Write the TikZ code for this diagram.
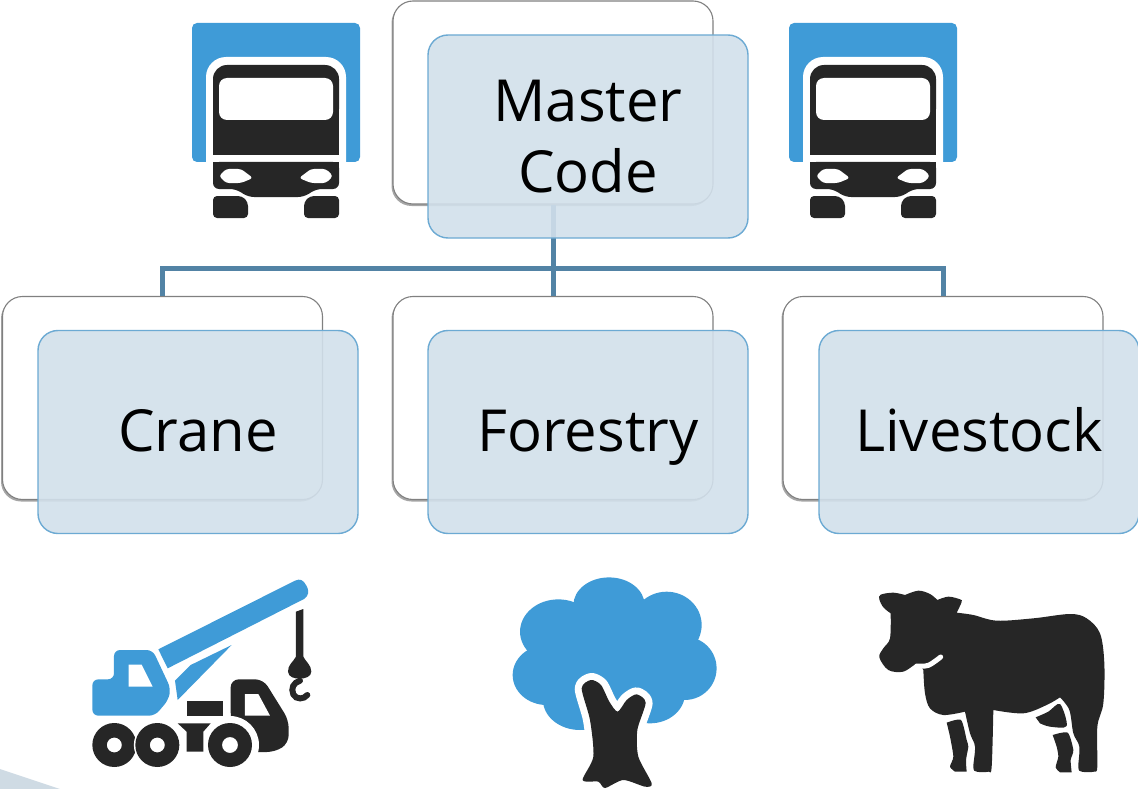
\documentclass[tikz,border=0pt]{standalone}
\usepackage{fontspec}
\setmainfont{Open Sans}
\usetikzlibrary{shadows,calc}
\definecolor{iconblue}{HTML}{3F9BD7}
\definecolor{iconblack}{HTML}{262626}
\definecolor{busline}{HTML}{5283A5}
\definecolor{frontfill}{HTML}{D2E0EB}
\definecolor{frontedge}{HTML}{6CAAD3}
\definecolor{cornergrey}{HTML}{CFDBE4}
\newcommand{\lab}[1]{\rule[-3pt]{0pt}{44pt}\smash{#1}}
\tikzset{
  backbox/.style={draw=black!50,line width=1.1pt,fill=white,rounded corners=20pt,
    minimum width=320pt,minimum height=203pt,inner sep=0pt,
    drop shadow={shadow xshift=-1.5pt,shadow yshift=-2pt,opacity=.35,fill=black}},
  frontbox/.style={draw=frontedge,line width=1.4pt,fill=frontfill,fill opacity=.9,draw opacity=1,text opacity=1,
    rounded corners=20pt,minimum width=320pt,minimum height=203pt,inner sep=0pt,
    font=\fontsize{58pt}{71pt}\selectfont,align=center,text=black},
  conn/.style={draw=busline,line width=5pt,line join=miter},
  zoomat/.style 2 args={shift={(#1pt,-#2pt)},x=0.33333pt,y=-0.33333pt},
  ink/.style={fill=iconblack},
  sky/.style={fill=iconblue},
}
\newcommand{\drawtruck}[2]{%
  \begin{scope}[shift={(#1pt,-#2pt)}]
    \fill[sky,rounded corners=5pt] (0,0) rectangle (168,139);
    \fill[white,rounded corners=20pt] (14,34) rectangle (154,175);
    \fill[ink,rounded corners=14pt] (21,42) rectangle (147,100);
    \fill[ink] (21,70) rectangle (147,132);
    \fill[white,rounded corners=8pt] (27,55) rectangle (141,97);
    \fill[ink,rounded corners=6pt] (21,139) -- (147,139) -- (147,166) -- (124,166) -- (112,174) -- (56,174) -- (44,166) -- (21,166) -- cycle;
    \fill[ink] (21,139) rectangle (147,150);
    \fill[white,rounded corners=3pt] (34,146) -- (49,146) -- (61,155) -- (49,160) -- (34,160) -- (27,153) -- cycle;
    \fill[white,rounded corners=3pt] (134,146) -- (119,146) -- (107,155) -- (119,160) -- (134,160) -- (141,153) -- cycle;
    \fill[ink,rounded corners=4pt] (21,173) -- (50,173) -- (56,179) -- (56,195) -- (21,195) -- cycle;
    \fill[ink,rounded corners=4pt] (147,173) -- (118,173) -- (112,179) -- (112,195) -- (147,195) -- cycle;
  \end{scope}}
\begin{document}
\begin{tikzpicture}[x=1pt,y=-1pt]
\useasboundingbox (0,0) rectangle (1138,789);
% corner fragment
\fill[cornergrey] (0,769) -- (60,789) -- (0,789) -- cycle;
% trucks
\drawtruck{192}{23}
\drawtruck{789}{23}
% back boxes
\node[backbox] (mback) at (553,102.5) {};
\node[backbox] (cback) at (162.5,398) {};
\node[backbox] (fback) at (553,398) {};
\node[backbox] (lback) at (943,398) {};
% connectors
\coordinate (bus) at (553,268);
\draw[conn] (mback.south) -- (bus);
\draw[conn] (bus) -| (cback.north);
\draw[conn] (bus) -| (lback.north);
\draw[conn] (bus) -- (fback.north);
% front boxes
\node[frontbox] (master) at (588,136.5) {Master\\Code\rule[-1pt]{0pt}{0pt}};
\node[frontbox] (crane) at (198,432) {\lab{Crane}};
\node[frontbox] (forestry) at (588,432) {\lab{Forestry}};
\node[frontbox] (livestock) at (979,432) {\lab{Livestock}};
% crane icon
\begin{scope}[zoomat={0}{560}]
  \fill[sky] (475,268) -- (885,62) .. controls (900,55) and (910,60) .. (918,75) .. controls (930,95) and (925,108) .. (912,117) -- (503,325) -- cycle;
  \fill[sky] (695,255) -- (572,315) -- (525,362) -- (533,420) -- cycle;
  \fill[sky,rounded corners=6pt] (277,358) -- (342,358) -- (342,270) -- (458,270) -- (512,385) -- (505,420) -- (465,467) -- (277,467) -- cycle;
  \fill[white] (386,314) -- (425,314) -- (458,380) -- (386,380) -- cycle;
  \fill[ink] (560,424) rectangle (670,467);
  \fill[ink,rounded corners=8pt] (692,468) -- (692,358) -- (790,358) -- (866,480) -- (866,550) -- (825,576) -- (700,576) -- cycle;
  \fill[white] (735,402) -- (775,402) -- (810,467) -- (735,467) -- cycle;
  \fill[white] (690,555) circle[radius=29pt];
  \fill[white] (692,468) rectangle (600,600);
  \fill[ink] (533,490) -- (632,490) -- (610,515) -- (610,575) -- (560,575) -- (560,515) -- cycle;
  \fill[ink,even odd rule] (343,555) circle[radius=22pt] (343,555) circle[radius=7.5pt];
  \fill[white] (472,555) circle[radius=23.5pt];
  \fill[ink,even odd rule] (472,555) circle[radius=22pt] (472,555) circle[radius=7.5pt];
  \fill[white] (690,555) circle[radius=23.5pt];
  \fill[ink,even odd rule] (690,555) circle[radius=22pt] (690,555) circle[radius=8pt];
  % hook
  \fill[ink] (888,155) -- (910,147) -- (910,295) -- (888,295) -- cycle;
  \fill[ink] (888,290) .. controls (880,305) and (863,315) .. (864,335) .. controls (865,352) and (885,356) .. (899,356) .. controls (915,356) and (934,350) .. (934,335) .. controls (934,315) and (917,305) .. (910,290) -- cycle;
  \draw[iconblack,line width=6pt,line cap=round] (900,362) .. controls (880,368) and (872,385) .. (880,403) .. controls (888,420) and (912,418) .. (922,405);
\end{scope}
% tree icon
\begin{scope}[zoomat={490}{560}]
  \fill[sky] (357,135) ellipse[x radius=35.6pt,y radius=27.6pt];
  \fill[sky] (530,195) ellipse[x radius=35pt,y radius=33.3pt];
  \fill[sky] (585,325) ellipse[x radius=31.6pt,y radius=31.6pt];
  \fill[sky] (205,215) ellipse[x radius=38.3pt,y radius=32.3pt];
  \fill[sky] (170,345) ellipse[x radius=34pt,y radius=30pt];
  \fill[sky] (270,420) ellipse[x radius=37pt,y radius=30pt];
  \fill[sky] (480,400) ellipse[x radius=35pt,y radius=30pt];
  \fill[sky] (370,300) circle[radius=60pt];
  \path[fill=white,draw=white,line width=14pt,line join=round]
    plot[smooth cycle,tension=.45] coordinates {(275,385) (303,360) (333,375) (358,425) (383,455) (410,420) (440,403) (467,428) (442,510) (445,590) (485,670) (465,680) (400,660) (345,684) (325,665) (278,660) (310,590) (300,480)};
  \fill[iconblack]
    plot[smooth cycle,tension=.45] coordinates {(275,385) (303,360) (333,375) (358,425) (383,455) (410,420) (440,403) (467,428) (442,510) (445,590) (485,670) (465,680) (400,660) (345,684) (325,665) (278,660) (310,590) (300,480)};
\end{scope}
% cow icon
\begin{scope}[zoomat={860}{570}]
  \fill[ink] plot[smooth,tension=.55] coordinates {(92,130) (70,112) (58,88) (62,74) (100,68) (135,75)}
    -- plot[smooth,tension=.55] coordinates {(135,75) (175,62) (210,72) (232,90)}
    -- plot[smooth,tension=.55] coordinates {(232,90) (265,80) (300,88) (305,96) (290,128)}
    -- plot[smooth,tension=.55] coordinates {(290,128) (340,135) (410,152) (520,145) (630,132) (680,145) (720,190) (733,280) (730,400) (712,470) (712,590) (702,605) (665,605) (655,592) (658,530) (640,490) (628,420) (600,382)}
    -- plot[smooth,tension=.55] coordinates {(600,382) (560,405) (490,430) (400,420)}
    -- plot[smooth,tension=.55] coordinates {(400,420) (395,590) (385,605) (350,605) (340,592) (345,530) (330,490) (315,425)}
    -- plot[smooth,tension=.55] coordinates {(315,425) (250,435) (210,415) (195,370) (190,300)}
    -- plot[smooth,tension=.55] coordinates {(190,300) (170,282) (130,305) (85,300) (58,262) (70,235) (90,205) (92,130)}
    -- cycle;
  \draw[white,line width=5pt,line cap=round] plot[smooth,tension=.6] coordinates {(170,288) (205,286) (242,261)};
  \fill[ink] plot[smooth,tension=.5] coordinates {(527,442) (565,425) (600,402) (620,468) (570,470) (540,460)} -- cycle;
  \fill[ink] plot[smooth,tension=.4] coordinates {(578,495) (623,488) (640,540) (632,570) (635,607)} -- (600,607) -- plot[smooth,tension=.4] coordinates {(600,607) (587,592) (595,560) (590,530) (578,495)} -- cycle;
  \fill[ink] plot[smooth,tension=.4] coordinates {(260,458) (303,450) (320,510) (325,530) (318,570) (320,605)} -- (285,605) -- plot[smooth,tension=.4] coordinates {(285,605) (270,590) (280,560) (270,500) (260,458)} -- cycle;
\end{scope}
\end{tikzpicture}
\end{document}
